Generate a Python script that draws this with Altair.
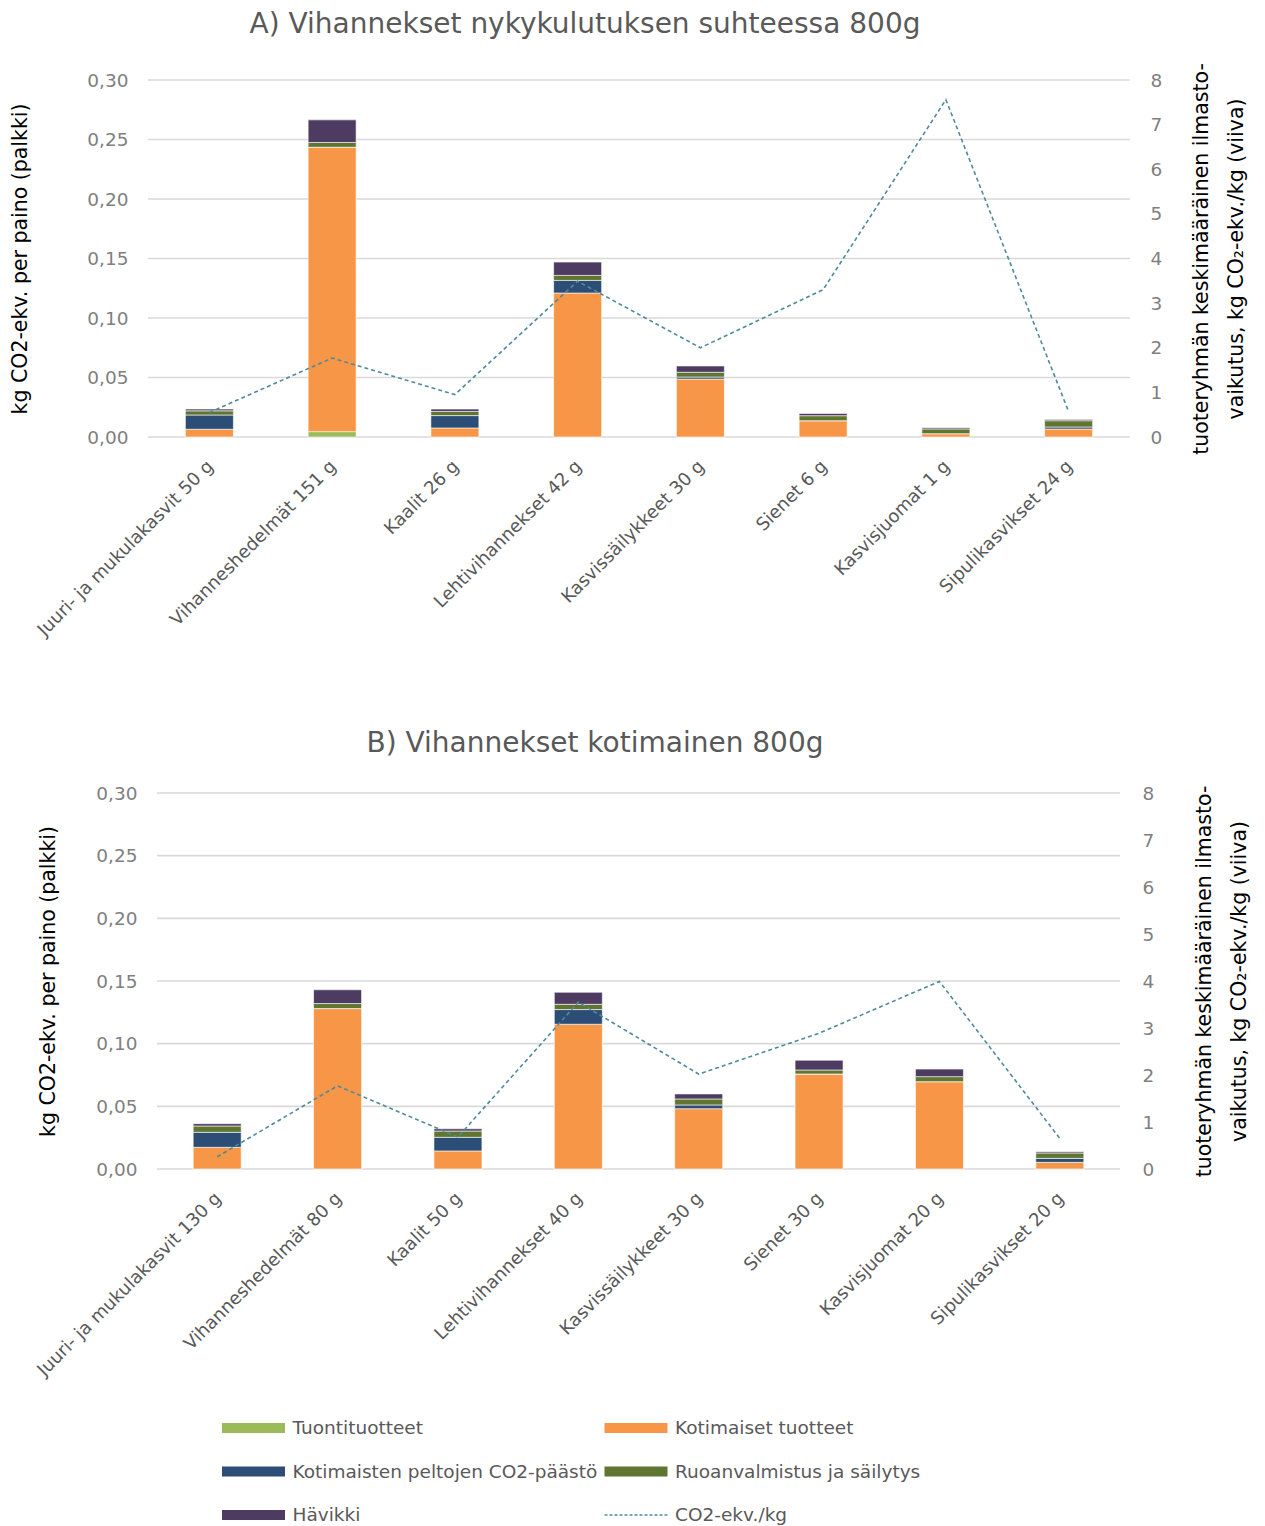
import altair as alt
import pandas as pd

FONT = "DejaVu Sans"

# Series names and colours (stack order bottom -> top)
series_names = [
    "Tuontituotteet",
    "Kotimaiset tuotteet",
    "Kotimaisten peltojen CO2-päästö",
    "Ruoanvalmistus ja säilytys",
    "Hävikki",
]
series_colors = ["#9BBB59", "#F79646", "#2C4D75", "#5F7530", "#4E3B62"]
line_name = "CO2-ekv./kg"
line_color = "#4F8A9B"

# Panel A: current consumption
cats_a = [
    "Juuri- ja mukulakasvit 50 g",
    "Vihanneshedelmät 151 g",
    "Kaalit 26 g",
    "Lehtivihannekset 42 g",
    "Kasvissäilykkeet 30 g",
    "Sienet 6 g",
    "Kasvisjuomat 1 g",
    "Sipulikasvikset 24 g",
]
tuonti_a = [0.0, 0.0045, 0.0, 0.0, 0.0, 0.0, 0.0, 0.0]
kotimaiset_a = [0.0065, 0.239, 0.0076, 0.121, 0.0487, 0.0137, 0.0028, 0.0067]
pellot_a = [0.012, 0.0, 0.0104, 0.0106, 0.0017, 0.0, 0.0, 0.0017]
ruoka_a = [0.0035, 0.004, 0.0035, 0.0042, 0.004, 0.0042, 0.004, 0.0053]
havikki_a = [0.0015, 0.019, 0.002, 0.0112, 0.0053, 0.0019, 0.001, 0.0011]
co2_per_kg_a = [0.55, 1.77, 0.95, 3.49, 2.0, 3.3, 7.56, 0.57]

# Panel B: domestic 800 g
cats_b = [
    "Juuri- ja mukulakasvit 130 g",
    "Vihanneshedelmät 80 g",
    "Kaalit 50 g",
    "Lehtivihannekset 40 g",
    "Kasvissäilykkeet 30 g",
    "Sienet 30 g",
    "Kasvisjuomat 20 g",
    "Sipulikasvikset 20 g",
]
tuonti_b = [0.0, 0.0, 0.0, 0.0, 0.0, 0.0, 0.0, 0.0]
kotimaiset_b = [0.0173, 0.128, 0.0144, 0.1155, 0.0481, 0.0758, 0.0697, 0.0053]
pellot_b = [0.012, 0.0, 0.0109, 0.0117, 0.003, 0.0, 0.0, 0.0032]
ruoka_b = [0.005, 0.004, 0.005, 0.0042, 0.0048, 0.0032, 0.004, 0.0043]
havikki_b = [0.0019, 0.011, 0.0018, 0.0096, 0.004, 0.0078, 0.006, 0.001]
co2_per_kg_b = [0.26, 1.77, 0.68, 3.55, 2.02, 2.89, 3.99, 0.65]

left_ticks = [0.0, 0.05, 0.10, 0.15, 0.20, 0.25, 0.30]
right_ticks = [0, 1, 2, 3, 4, 5, 6, 7, 8]

left_title = "kg CO2-ekv. per paino (palkki)"
right_title = ["tuoteryhmän keskimääräinen ilmasto-", "vaikutus, kg CO₂-ekv./kg (viiva)"]


def panel(title, title_dx, title_offset, cats, stacks, line_vals, width, height, inset,
          left_label_pad, left_title_pad, right_label_pad, right_title_pad):
    """One combo chart: stacked bars (left axis) + dashed line (right axis).

    `inset` leaves an empty strip at the left edge of the plot area, so the
    gridlines and categories start that many pixels in from the left axis.
    """
    rows = []
    for order, (name, vals) in enumerate(zip(series_names, stacks)):
        for cat, val in zip(cats, vals):
            rows.append({"cat": cat, "series": name, "value": val, "order": order})
    bar_df = pd.DataFrame(rows)
    line_df = pd.DataFrame({"cat": cats, "co2": line_vals})
    grid_df = pd.DataFrame({"tick": left_ticks})

    x_scale = alt.Scale(paddingInner=0.6, paddingOuter=0.3, range=[inset, width])
    y_scale = alt.Scale(domain=[0, 0.30], nice=False)

    x_enc = alt.X(
        "cat:N",
        sort=cats,
        scale=x_scale,
        axis=alt.Axis(
            title=None, labelAngle=-45, labelFontSize=18, labelColor="#595959",
            labelFont=FONT, domain=False, ticks=False, labelPadding=20,
            labelOffset=-5, labelLimit=400,
        ),
    )

    gridlines = alt.Chart(grid_df).mark_rule(color="#D9D9D9", strokeWidth=1.6).encode(
        y=alt.Y("tick:Q", scale=y_scale, axis=None),
        x=alt.value(inset),
        x2=alt.value(width),
    )

    bars = alt.Chart(bar_df).mark_bar(size=48, stroke="white", strokeWidth=0.6).encode(
        x=x_enc,
        y=alt.Y(
            "value:Q",
            stack="zero",
            scale=y_scale,
            axis=alt.Axis(
                values=left_ticks,
                labelExpr="replace(format(datum.value, '.2f'), '.', ',')",
                grid=False, domain=False, ticks=False,
                labelFontSize=18.5, labelColor="#7F7F7F", labelFont=FONT,
                labelPadding=left_label_pad,
                title=left_title, titleFontSize=20.5, titleFontWeight="normal",
                titleColor="#000000", titleFont=FONT, titlePadding=left_title_pad,
            ),
        ),
        color=alt.Color(
            "series:N",
            scale=alt.Scale(domain=series_names, range=series_colors),
            legend=None,
        ),
        order=alt.Order("order:Q"),
    )

    line = alt.Chart(line_df).mark_line(
        color=line_color, strokeWidth=1.6, strokeDash=[4, 3]
    ).encode(
        x=alt.X("cat:N", sort=cats),
        y=alt.Y(
            "co2:Q",
            scale=alt.Scale(domain=[0, 8], nice=False),
            axis=alt.Axis(
                orient="right", values=right_ticks, grid=False, domain=False, ticks=False,
                labelFontSize=18.5, labelColor="#7F7F7F", labelFont=FONT,
                labelPadding=right_label_pad,
                title=right_title, titleFontSize=20.5, titleFontWeight="normal",
                titleColor="#000000", titleFont=FONT, titleAngle=270,
                titleBaseline="top", titlePadding=right_title_pad, titleLineHeight=35,
            ),
        ),
    )

    # invisible rule that fixes how far the panel reaches to the left
    spacer = alt.Chart(line_df.head(1)).mark_rule(opacity=0).encode(
        x=alt.value(-148), y=alt.value(0), y2=alt.value(10)
    )

    return alt.layer(gridlines, bars, line, spacer).resolve_scale(y="independent").properties(
        width=width,
        height=height,
        title=alt.TitleParams(
            title, fontSize=28, fontWeight="normal", color="#595959", font=FONT,
            anchor="middle", frame="group", dx=title_dx, offset=title_offset,
        ),
    )


panel_a = panel(
    "A) Vihannekset nykykulutuksen suhteessa 800g", -54, 24, cats_a,
    [tuonti_a, kotimaiset_a, pellot_a, ruoka_a, havikki_a], co2_per_kg_a,
    982, 357, 0, 20, 56, 20, -5,
)
panel_b = panel(
    "B) Vihannekset kotimainen 800g", -39, 26, cats_b,
    [tuonti_b, kotimaiset_b, pellot_b, ruoka_b, havikki_b], co2_per_kg_b,
    972, 376, 9, 11, 37, 22, 6,
)

# Legend drawn as its own small chart
legend_labels = series_names + [line_name]
legend_cols = [0, 1, 0, 1, 0, 1]
legend_rows = [0, 0, 1, 1, 2, 2]
leg_df = pd.DataFrame({"label": legend_labels, "col": legend_cols, "row": legend_rows})

leg_x = alt.X("col:Q", scale=alt.Scale(domain=[0, 1], range=[105.5, 488]), axis=None)
leg_y = alt.Y("row:Q", scale=alt.Scale(domain=[0, 2], range=[22, 109]), axis=None)

leg_swatch = alt.Chart(leg_df.head(5)).mark_point(
    shape="M-1,-0.16H1V0.16H-1Z", size=3969, filled=True, opacity=1, strokeWidth=0
).encode(
    x=leg_x, y=leg_y,
    color=alt.Color("label:N", scale=alt.Scale(domain=series_names, range=series_colors), legend=None),
)
leg_line = alt.Chart(leg_df.tail(1)).mark_point(
    shape="M-1,0H1", size=3969, filled=False, color=line_color, opacity=1,
    strokeWidth=1.4, strokeDash=[3, 2],
).encode(x=leg_x, y=leg_y)
leg_text = alt.Chart(leg_df).mark_text(
    align="left", baseline="middle", dx=39, fontSize=18.5, color="#595959", font=FONT
).encode(x=leg_x, y=leg_y, text="label:N")

legend = alt.layer(leg_swatch, leg_line, leg_text).properties(width=982, height=121)

chart = alt.vconcat(
    alt.vconcat(panel_a, panel_b, spacing=90),
    legend,
    spacing=26,
).properties(
    padding={"left": 0, "top": 10, "right": 0, "bottom": 0}
).configure(background="white").configure_view(stroke=None)

chart.save("out.html", embed_options={"renderer": "svg", "actions": False})
